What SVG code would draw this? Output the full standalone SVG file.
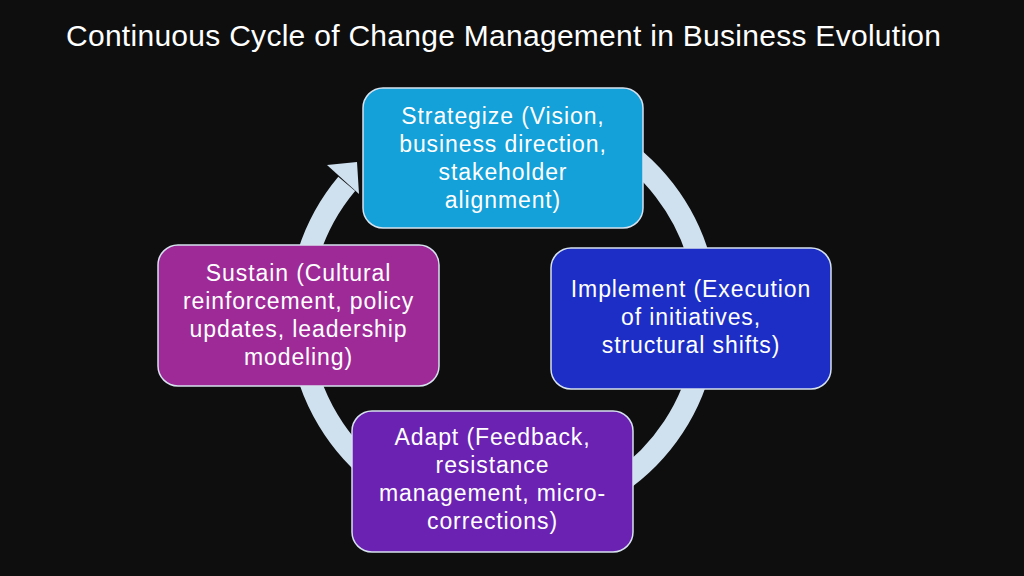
<svg xmlns="http://www.w3.org/2000/svg" width="1024" height="576" viewBox="0 0 1024 576">
  <style>
    .box { stroke: #d6e2ee; stroke-width: 1.5; }
    .lbl { font-family: "Liberation Sans", Arial, sans-serif; font-size: 23px; letter-spacing: 0.9px; fill: #ffffff; text-anchor: middle; }
    .title { font-family: "Liberation Sans", Arial, sans-serif; font-size: 30px; fill: #ffffff; text-anchor: middle; }
    .ring { fill: none; stroke: #cfe0ee; stroke-width: 22; }
  </style>
  <rect x="0" y="0" width="1024" height="576" fill="#0e0e0e"/>
  <text class="title" x="503.5" y="46" textLength="875" lengthAdjust="spacing">Continuous Cycle of Change Management in Business Evolution</text>

  <g id="connectors">
    <path class="ring" d="M 605 138.3 A 204 204 0 1 1 346.7 183.9"/>
    <polygon points="327,165 357,162 359,194" fill="#cfe0ee"/>
  </g>

  <g id="node-strategize">
    <rect class="box" x="363" y="88" width="280" height="140" rx="20" fill="#14a0d8"/>
    <text class="lbl"><tspan x="503" y="124">Strategize (Vision,</tspan><tspan x="503" y="152">business direction,</tspan><tspan x="503" y="180">stakeholder</tspan><tspan x="503" y="208">alignment)</tspan></text>
  </g>

  <g id="node-implement">
    <rect class="box" x="551" y="248" width="280" height="141" rx="20" fill="#1c2ec6"/>
    <text class="lbl"><tspan x="691" y="297">Implement (Execution</tspan><tspan x="691" y="325">of initiatives,</tspan><tspan x="691" y="353">structural shifts)</tspan></text>
  </g>

  <g id="node-adapt">
    <rect class="box" x="352" y="411" width="281" height="141" rx="20" fill="#6b22b3"/>
    <text class="lbl"><tspan x="492.5" y="445">Adapt (Feedback,</tspan><tspan x="492.5" y="473">resistance</tspan><tspan x="492.5" y="501">management, micro-</tspan><tspan x="492.5" y="529">corrections)</tspan></text>
  </g>

  <g id="node-sustain">
    <rect class="box" x="158" y="245" width="281" height="141" rx="20" fill="#9e2a98"/>
    <text class="lbl"><tspan x="298.5" y="281">Sustain (Cultural</tspan><tspan x="298.5" y="309">reinforcement, policy</tspan><tspan x="298.5" y="337">updates, leadership</tspan><tspan x="298.5" y="365">modeling)</tspan></text>
  </g>
</svg>
